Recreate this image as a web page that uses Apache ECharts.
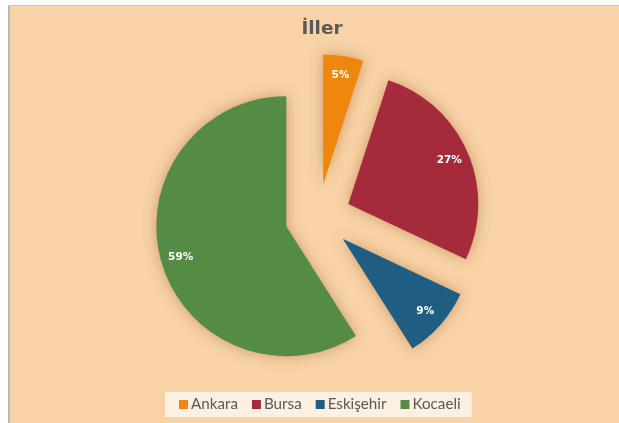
<!DOCTYPE html>
<html>
<head>
<meta charset="utf-8">
<script src="https://cdn.jsdelivr.net/npm/echarts@6/dist/echarts.min.js"></script>
<style>
  html, body { margin: 0; padding: 0; background: #ffffff; }
  #frame { position: absolute; left: 8px; top: 5px; width: 611px; height: 418px;
           background: #F8D3A8; border-left: 2px solid #b8b8b8; border-top: 1px solid #c8c8c8; box-sizing: border-box; }
  #chart { position: absolute; left: 0; top: 0; width: 619px; height: 423px; }
</style>
</head>
<body>
<div id="frame"></div>
<div id="chart"></div>
<script>
const titleText = 'İller';
const categories = ['Ankara', 'Bursa', 'Eskişehir', 'Kocaeli'];
const values = [5, 27, 9, 59];
const colors = ['#EF870D', '#A52A3C', '#1F5D82', '#548C46'];

const chart = echarts.init(document.getElementById('chart'), null, { renderer: 'canvas' });

const center = [318, 217];
const explode = 33;

const pieData = categories.map((c, i) => ({
  name: c, value: values[i], selected: true,
  itemStyle: { color: colors[i] }
}));
const labelData = categories.map((c, i) => ({
  name: c, value: values[i], selected: true
}));

chart.setOption({
  backgroundColor: 'transparent',
  animation: false,
  title: {
    text: titleText,
    left: 317, top: 15, textAlign: 'center',
    textStyle: { fontFamily: 'DejaVu Sans', fontWeight: 'bold', fontSize: 18.5, color: '#595959' }
  },
  legend: {
    data: categories.map((c, i) => ({ name: c, itemStyle: { color: colors[i] } })),
    bottom: 6, left: 165,
    icon: 'rect', itemWidth: 9, itemHeight: 9, itemGap: 14,
    backgroundColor: '#FBF0E1',
    padding: [5, 11, 5, 14],
    selectedMode: false,
    textStyle: { fontFamily: 'Lato', fontSize: 15.2, color: '#595959', padding: [0, 0, 0, -2] }
  },
  series: [
    {
      type: 'pie',
      center: center,
      radius: [0, 130],
      startAngle: 90,
      clockwise: true,
      selectedMode: 'multiple',
      selectedOffset: explode,
      avoidLabelOverlap: false,
      label: { show: false },
      labelLine: { show: false },
      emphasis: { disabled: true },
      itemStyle: { shadowBlur: 14, shadowColor: 'rgba(150,85,20,0.45)' },
      data: pieData
    },
    {
      type: 'pie',
      center: center,
      radius: [84, 130],
      startAngle: 90,
      clockwise: true,
      selectedMode: 'multiple',
      selectedOffset: explode,
      avoidLabelOverlap: false,
      silent: true,
      itemStyle: { color: 'rgba(0,0,0,0)' },
      label: {
        show: true, position: 'inside',
        formatter: p => Math.round(p.percent) + '%',
        fontFamily: 'Verdana, DejaVu Sans', fontWeight: 'bold', fontSize: 10.5, color: '#ffffff'
      },
      labelLine: { show: false },
      emphasis: { disabled: true },
      data: labelData
    }
  ]
});
</script>
</body>
</html>
